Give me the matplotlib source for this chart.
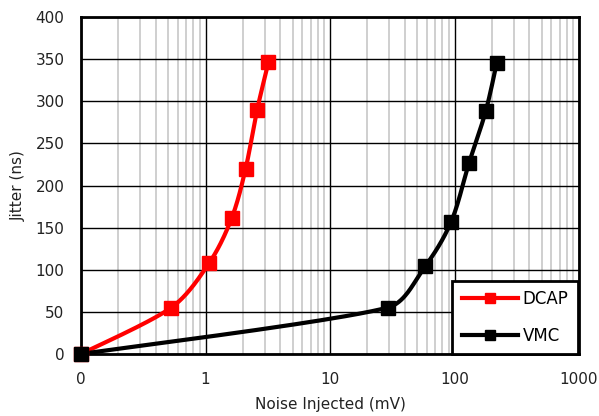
import numpy as np
import matplotlib
matplotlib.use("Agg")
import matplotlib.pyplot as plt
from matplotlib.ticker import FixedLocator, FixedFormatter, LogLocator, NullFormatter

plt.rcParams['font.family'] = ['DejaVu Sans']

# Data (x = 0.1 stands for the "0" position on the log axis)
dcap_x = [0.1, 0.53, 1.07, 1.62, 2.1, 2.6, 3.2]
dcap_y = [0, 55, 108, 161, 220, 290, 346]
vmc_x = [0.1, 29, 58, 94, 131, 178, 218]
vmc_y = [0, 55, 104, 157, 227, 288, 345]
xtick_vals = [0.1, 1, 10, 100, 1000]
xtick_labels = ['0', '1', '10', '100', '1000']
ytick_vals = [0, 50, 100, 150, 200, 250, 300, 350, 400]

fig = plt.figure(figsize=(5.99, 4.16), dpi=100)
ax = fig.add_axes([81 / 599, 1 - 354 / 416, (579 - 81) / 599, (354 - 17) / 416])

ax.set_xscale('log')
ax.set_xlim(0.1, 1000)
ax.set_ylim(0, 400)


def _unit(v):
    n = np.hypot(*v)
    return v / n if n > 0 else v, n


def smooth(xs, ys, n=40):
    # Spreadsheet-style smoothed line: Bezier segments computed in display space,
    # with control arms limited by segment length to avoid overshoot
    trans = ax.transData
    P = trans.transform(np.column_stack([xs, ys]).astype(float))
    out = []
    for i in range(len(P) - 1):
        p0 = P[i - 1] if i > 0 else P[i]
        p1, p2 = P[i], P[i + 1]
        p3 = P[i + 2] if i + 2 < len(P) else P[i + 1]
        seg_len = np.hypot(*(p2 - p1))
        u1, n1 = _unit(p2 - p0)
        u2, n2 = _unit(p3 - p1)
        c1 = p1 + u1 * min(n1 / 6.0, seg_len / 3.0)
        c2 = p2 - u2 * min(n2 / 6.0, seg_len / 3.0)
        t = np.linspace(0, 1, n)[:, None]
        seg = ((1 - t) ** 3) * p1 + 3 * ((1 - t) ** 2) * t * c1 + 3 * (1 - t) * t ** 2 * c2 + t ** 3 * p2
        out.append(seg if i == 0 else seg[1:])
    out = np.vstack(out)
    d = trans.inverted().transform(out)
    return d[:, 0], d[:, 1]


ax.xaxis.set_minor_locator(LogLocator(base=10, subs=np.arange(2, 10)))
ax.xaxis.set_minor_formatter(NullFormatter())
ax.xaxis.set_major_locator(FixedLocator(xtick_vals))
ax.xaxis.set_major_formatter(FixedFormatter(xtick_labels))
ax.set_yticks(ytick_vals)

ax.grid(which='minor', axis='x', color='#cccccc', linewidth=1.3)
ax.grid(which='major', axis='x', color='black', linewidth=1.0)
ax.grid(which='major', axis='y', color='black', linewidth=1.0)
ax.set_axisbelow(True)

ax.tick_params(which='both', length=0, labelsize=11, colors='#222222')
ax.tick_params(axis='x', pad=13)
ax.tick_params(axis='y', pad=12)
for s in ax.spines.values():
    s.set_linewidth(2)
    s.set_color('black')

for xs, ys, col, lab in [(dcap_x, dcap_y, '#ff0000', 'DCAP'), (vmc_x, vmc_y, 'black', 'VMC')]:
    sx, sy = smooth(xs, ys)
    ax.plot(sx, sy, color=col, linewidth=3, solid_capstyle='round', clip_on=False, zorder=3)
    ax.plot(xs, ys, linestyle='none', marker='s', markersize=9.5, color=col, clip_on=False, zorder=4)
    ax.plot([], [], color=col, linewidth=3, marker='s', markersize=6.5, label=lab)

leg = ax.legend(loc='lower right', bbox_to_anchor=(0.997, 0.0), frameon=True, fancybox=False,
                edgecolor='black', fontsize=12, handlelength=3.4, borderpad=0.55,
                labelspacing=1.15, borderaxespad=0, handletextpad=0.25)
leg.get_frame().set_linewidth(2)
leg.get_frame().set_alpha(1)

ax.set_xlabel('Noise Injected (mV)', fontsize=11, color='#222222', labelpad=7)
ax.set_ylabel('Jitter (ns)', fontsize=11, color='#222222', labelpad=7)

fig.savefig('out.png', dpi=100)
